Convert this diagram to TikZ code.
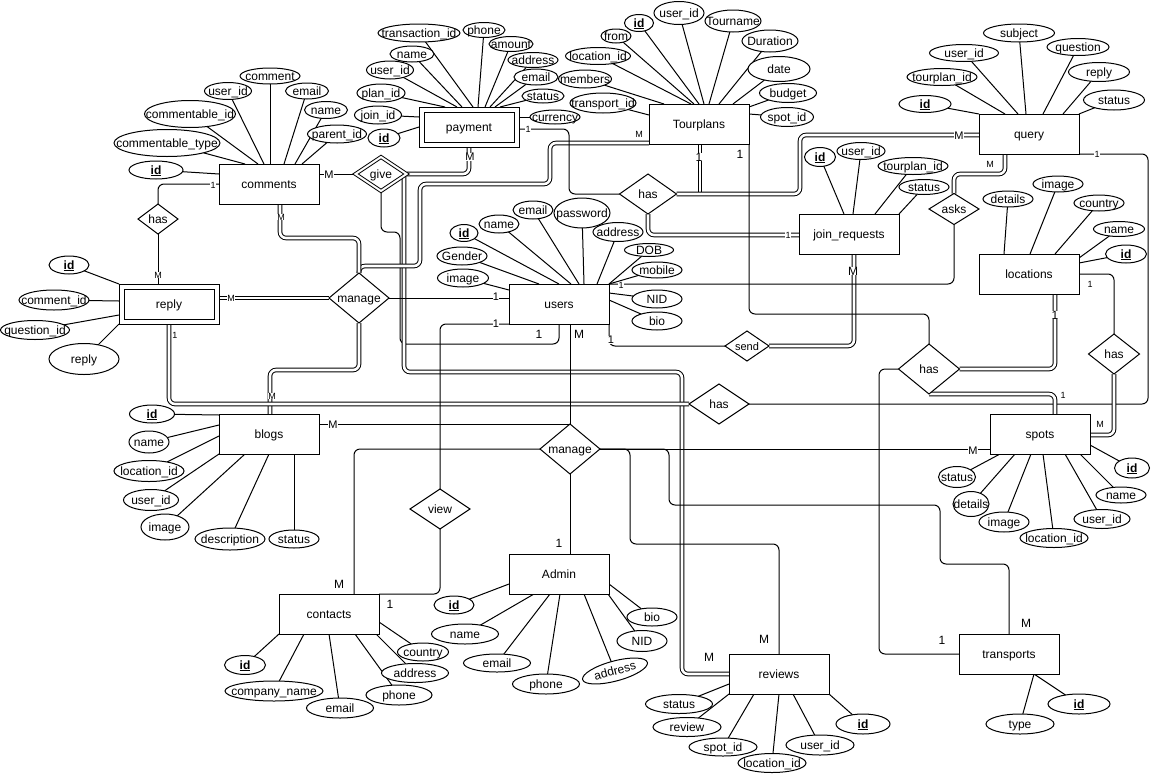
\documentclass[tikz,border=0pt]{standalone}
\usepackage{fontspec}
\setmainfont{Liberation Sans}
\usetikzlibrary{shapes.geometric}
\pgfdeclarelayer{bg}
\pgfsetlayers{bg,main}
\newcommand\zb[1]{\makebox[0pt]{#1}}
\newcommand\pkid{\textbf{\underline{id}}}
\newcommand\attrib[6]{\node[attr,minimum width=#4pt,minimum height=#5pt] (#1) at (#2,#3) {\zb{#6}};}
\newcommand\aline[4]{\draw[conn] (#1) -- ([shift={(#3,#4)}]#2.center);}
\begin{document}
\begin{tikzpicture}[x=1pt,y=-1pt,
  every node/.style={font=\fontsize{12}{14}\selectfont, inner sep=0pt, outer sep=0pt},
  ent/.style={draw, fill=white, rectangle, minimum width=100pt, minimum height=40pt, line width=1pt, text height=8pt, text depth=0pt},
  went/.style={draw, fill=white, rectangle, minimum width=95pt, minimum height=35pt, line width=1pt, double, double distance=4pt, text height=8pt, text depth=0pt},
  attr/.style={draw, fill=white, ellipse, line width=1pt, text height=8pt, text depth=0pt},
  rel/.style={draw, fill=white, diamond, line width=1pt, text height=8pt, text depth=0pt},
  conn/.style={line width=1pt, rounded corners=6pt},
  dbl/.style={conn, double, double distance=2.6pt},
  card/.style={fill=white, font=\fontsize{9}{10}\selectfont, inner sep=0.3pt},
  cardm/.style={card, font=\fontsize{11}{12}\selectfont},
  cardl/.style={card, font=\fontsize{12}{13}\selectfont}]
\useasboundingbox (0,0) rectangle (1151,774);

% ---------- entities ----------
\node[ent] (comments) at (269,184) {comments};
\node[went] (payment) at (469,127) {payment};
\node[ent] (tourplans) at (699,124) {Tourplans};
\node[ent] (query) at (1029,134) {query};
\node[ent] (joinreq) at (849,234) {join\_requests};
\node[ent] (locations) at (1029,274) {locations};
\node[ent] (users) at (559,304) {users};
\node[went] (reply) at (169,304) {reply};
\node[ent] (blogs) at (269,434) {blogs};
\node[ent] (spots) at (1040,434) {spots};
\node[ent] (contacts) at (329,614) {contacts};
\node[ent] (admin) at (559,574) {Admin};
\node[ent] (reviews) at (779,674) {reviews};
\node[ent] (transports) at (1009,654) {transports};

% ---------- relationships ----------
\node[rel, minimum width=51pt, minimum height=34pt, double, double distance=2pt] (give) at (381,174) {\zb{give}};
\node[rel, minimum width=40pt, minimum height=30pt] (hasA) at (158,219) {\zb{has}};
\node[rel, minimum width=60pt, minimum height=50pt] (manA) at (359,298) {\zb{manage}};
\node[rel, minimum width=57pt, minimum height=40pt] (hasB) at (648,194) {\zb{has}};
\node[rel, minimum width=50pt, minimum height=31pt] (asks) at (954,209) {\zb{asks}};
\node[rel, minimum width=44pt, minimum height=30pt, font=\fontsize{11}{13}\selectfont] (send) at (747,346) {\zb{send}};
\node[rel, minimum width=61pt, minimum height=50pt] (hasC) at (929,369) {\zb{has}};
\node[rel, minimum width=51pt, minimum height=40pt] (hasD) at (1114,354) {\zb{has}};
\node[rel, minimum width=60pt, minimum height=40pt] (hasE) at (719,404) {\zb{has}};
\node[rel, minimum width=60pt, minimum height=50pt] (manB) at (570,449) {\zb{manage}};
\node[rel, minimum width=60pt, minimum height=40pt] (view) at (440,509) {\zb{view}};

% ---------- attributes ----------
\attrib{cmComment}{270}{76}{60}{16}{comment}
\attrib{cmUid}{228}{91}{47}{17}{user\_id}
\attrib{cmEmail}{307}{91}{43}{16}{email}
\attrib{cmCid}{190}{114}{91}{27}{commentable\_id}
\attrib{cmName}{326}{110}{43}{17}{name}
\attrib{cmPid}{337}{134}{59}{18}{parent\_id}
\attrib{cmType}{167}{143}{106}{27}{commentable\_type}
\attrib{cmId}{156}{170}{54}{18}{\pkid}

\attrib{pyTid}{419}{33}{82}{18}{transaction\_id}
\attrib{pyPhone}{484}{30}{42}{15}{phone}
\attrib{pyAmount}{511}{44}{44}{15}{amount}
\attrib{pyName}{412}{54}{44}{16}{name}
\attrib{pyAddr}{533}{60}{50}{15}{address}
\attrib{pyUid}{390}{70}{47}{18}{user\_id}
\attrib{pyEmail}{536}{77}{44}{16}{email}
\attrib{pyPlan}{381}{93}{48}{18}{plan\_id}
\attrib{pyStatus}{543}{96}{42}{14}{status}
\attrib{pyJoin}{378}{115}{47}{18}{join\_id}
\attrib{pyCur}{555}{117}{50}{14}{currency}
\attrib{pyId}{384}{138}{32}{18}{\pkid}

\attrib{tpId}{639}{23}{29}{17}{\pkid}
\attrib{tpUid}{679}{13}{50}{23}{user\_id}
\attrib{tpName}{733}{21}{56}{22}{Tourname}
\attrib{tpFrom}{616}{36}{30}{14}{from}
\attrib{tpDur}{770}{41}{56}{22}{Duration}
\attrib{tpLoc}{598}{56}{65}{17}{location\_id}
\attrib{tpMem}{585}{79}{53}{18}{members}
\attrib{tpDate}{779}{69}{62}{25}{date}
\attrib{tpBudget}{788}{93}{57}{19}{budget}
\attrib{tpTr}{603}{103}{66}{20}{transport\_id}
\attrib{tpSpot}{787}{117}{53}{19}{spot\_id}

\attrib{qSubj}{1019}{33}{71}{18}{subject}
\attrib{qUid}{964}{53}{69}{17}{user\_id}
\attrib{qQuest}{1078}{47}{62}{17}{question}
\attrib{qTp}{942}{77}{70}{17}{tourplan\_id}
\attrib{qReply}{1099}{72}{61}{19}{reply}
\attrib{qId}{925}{104}{52}{17}{\pkid}
\attrib{qStatus}{1114}{100}{61}{20}{status}

\attrib{jrId}{820}{157}{31}{19}{\pkid}
\attrib{jrUid}{861}{151}{48}{17}{user\_id}
\attrib{jrTp}{913}{166}{70}{17}{tourplan\_id}
\attrib{jrStatus}{924}{187}{50}{15}{status}

\attrib{lcDet}{1008}{199}{50}{16}{details}
\attrib{lcImg}{1058}{184}{50}{16}{image}
\attrib{lcCty}{1099}{203}{50}{16}{country}
\attrib{lcName}{1119}{229}{51}{15}{name}
\attrib{lcId}{1126}{254}{41}{18}{\pkid}

\attrib{usEmail}{533}{210}{40}{18}{email}
\attrib{usPw}{582}{213}{56}{30}{password}
\attrib{usName}{499}{224}{40}{18}{name}
\attrib{usAddr}{618}{232}{50}{19}{address}
\attrib{usId}{464}{233}{28}{17}{\pkid}
\attrib{usGender}{462}{256}{50}{18}{Gender}
\attrib{usDob}{649}{250}{49}{13}{DOB}
\attrib{usMobile}{657}{270}{50}{16}{mobile}
\attrib{usImg}{463}{278}{51}{18}{image}
\attrib{usNid}{657}{299}{50}{18}{NID}
\attrib{usBio}{657}{321}{50}{18}{bio}

\attrib{rpId}{69}{265}{40}{18}{\pkid}
\attrib{rpCid}{54}{300}{70}{20}{comment\_id}
\attrib{rpQid}{35}{330}{69}{19}{question\_id}
\attrib{rpReply}{84}{359}{70}{31}{reply}

\attrib{blId}{152}{414}{45}{18}{\pkid}
\attrib{blName}{149}{442}{40}{22}{name}
\attrib{blLoc}{149}{471}{70}{21}{location\_id}
\attrib{blUid}{151}{500}{55}{21}{user\_id}
\attrib{blImg}{165}{527}{48}{26}{image}
\attrib{blDesc}{230}{539}{70}{22}{description}
\attrib{blStatus}{294}{539}{50}{18}{status}

\attrib{spId}{1132}{468}{35}{20}{\pkid}
\attrib{spStatus}{957}{477}{37}{21}{status}
\attrib{spName}{1121}{495}{50}{16}{name}
\attrib{spDet}{971}{504}{36}{25}{details}
\attrib{spImg}{1004}{522}{50}{20}{image}
\attrib{spLoc}{1054}{538}{68}{19}{location\_id}
\attrib{spUid}{1102}{519}{56}{19}{user\_id}

\attrib{ctId}{245}{665}{41}{19}{\pkid}
\attrib{ctCname}{274}{691}{98}{20}{company\_name}
\attrib{ctEmail}{340}{708}{67}{20}{email}
\attrib{ctPhone}{399}{695}{66}{20}{phone}
\attrib{ctAddr}{415}{673}{67}{19}{address}
\attrib{ctCty}{423}{652}{51}{18}{country}

\attrib{adId}{454}{605}{40}{18}{\pkid}
\attrib{adName}{465}{634}{67}{20}{name}
\attrib{adEmail}{497}{663}{67}{18}{email}
\attrib{adPhone}{546}{684}{67}{20}{phone}
\node[attr, minimum width=67pt, minimum height=20pt, rotate=15] (adAddr) at (615,671) {\zb{address}};
\attrib{adNid}{642}{641}{50}{21}{NID}
\attrib{adBio}{652}{617}{50}{18}{bio}

\attrib{rvStatus}{679}{704}{67}{19}{status}
\attrib{rvReview}{687}{727}{68}{19}{review}
\attrib{rvSpot}{723}{747}{68}{18}{spot\_id}
\attrib{rvLoc}{772}{763}{68}{19}{location\_id}
\attrib{rvUid}{820}{745}{68}{20}{user\_id}
\attrib{rvId}{863}{724}{54}{20}{\pkid}

\attrib{trId}{1079}{704}{62}{20}{\pkid}
\attrib{trType}{1020}{724}{68}{20}{type}

% ---------- lines (under the shapes) ----------
\begin{pgfonlayer}{bg}
\fill[white] (0,0) rectangle (1151,774);
\aline{cmComment}{comments}{1}{-20}
\aline{cmUid}{comments}{-5}{-20}
\aline{cmEmail}{comments}{15}{-20}
\aline{cmCid}{comments}{-11}{-20}
\aline{cmName}{comments}{26}{-20}
\aline{cmPid}{comments}{33}{-20}
\aline{cmType}{comments}{-24}{-20}
\aline{cmId}{comments}{-50}{-10}

\aline{pyTid}{payment}{4}{-20}
\aline{pyPhone}{payment}{9}{-20}
\aline{pyAmount}{payment}{16}{-20}
\aline{pyName}{payment}{-7}{-20}
\aline{pyAddr}{payment}{21}{-20}
\aline{pyUid}{payment}{-12}{-20}
\aline{pyEmail}{payment}{26}{-20}
\aline{pyPlan}{payment}{-24}{-20}
\aline{pyStatus}{payment}{31}{-20}
\aline{pyJoin}{payment}{-50}{-10}
\aline{pyCur}{payment}{50}{-10}
\aline{pyId}{payment}{-50}{0}

\aline{tpId}{tourplans}{0}{-20}
\aline{tpUid}{tourplans}{5}{-20}
\aline{tpName}{tourplans}{10}{-20}
\aline{tpFrom}{tourplans}{-5}{-20}
\aline{tpDur}{tourplans}{20}{-20}
\aline{tpLoc}{tourplans}{-8}{-20}
\aline{tpMem}{tourplans}{-35}{-20}
\aline{tpDate}{tourplans}{34}{-20}
\aline{tpBudget}{tourplans}{50}{-17}
\aline{tpTr}{tourplans}{-50}{-9}
\aline{tpSpot}{tourplans}{50}{-10}

\aline{qSubj}{query}{-3}{-20}
\aline{qUid}{query}{-11}{-20}
\aline{qQuest}{query}{14}{-20}
\aline{qTp}{query}{-24}{-20}
\aline{qReply}{query}{34}{-20}
\aline{qId}{query}{-50}{-20}
\aline{qStatus}{query}{50}{-20}

\aline{jrId}{joinreq}{-5}{-20}
\aline{jrUid}{joinreq}{4}{-20}
\aline{jrTp}{joinreq}{26}{-20}
\aline{jrStatus}{joinreq}{50}{-20}

\aline{lcDet}{locations}{-25}{-20}
\aline{lcImg}{locations}{1}{-20}
\aline{lcCty}{locations}{26}{-20}
\aline{lcName}{locations}{50}{-16}
\aline{lcId}{locations}{50}{-11}

\aline{usEmail}{users}{20}{-20}
\aline{usPw}{users}{25}{-20}
\aline{usName}{users}{12}{-20}
\aline{usAddr}{users}{38}{-20}
\aline{usId}{users}{0}{-20}
\aline{usGender}{users}{-20}{-20}
\aline{usDob}{users}{50}{-20}
\aline{usMobile}{users}{50}{-20}
\aline{usImg}{users}{-50}{-14}
\aline{usNid}{users}{50}{-11}
\aline{usBio}{users}{50}{-4}

\aline{rpId}{reply}{-50}{-20}
\aline{rpCid}{reply}{-50}{-3}
\aline{rpQid}{reply}{-50}{11}
\aline{rpReply}{reply}{-50}{20}

\aline{blId}{blogs}{-50}{-19}
\aline{blName}{blogs}{-50}{-9}
\aline{blLoc}{blogs}{-50}{2}
\aline{blUid}{blogs}{-50}{20}
\aline{blImg}{blogs}{-24}{20}
\aline{blDesc}{blogs}{0}{20}
\aline{blStatus}{blogs}{25}{20}

\aline{spId}{spots}{50}{11}
\aline{spStatus}{spots}{-40}{20}
\aline{spName}{spots}{40}{20}
\aline{spDet}{spots}{-25}{20}
\aline{spImg}{spots}{-9}{20}
\aline{spLoc}{spots}{3}{20}
\aline{spUid}{spots}{25}{20}

\aline{ctId}{contacts}{-50}{20}
\aline{ctCname}{contacts}{-25}{20}
\aline{ctEmail}{contacts}{0}{20}
\aline{ctPhone}{contacts}{26}{20}
\aline{ctAddr}{contacts}{47}{20}
\aline{ctCty}{contacts}{50}{8}

\aline{adId}{admin}{-50}{10}
\aline{adName}{admin}{-25}{20}
\aline{adEmail}{admin}{-9}{20}
\aline{adPhone}{admin}{1}{20}
\aline{adAddr}{admin}{25}{20}
\aline{adNid}{admin}{49}{20}
\aline{adBio}{admin}{50}{10}

\aline{rvStatus}{reviews}{-50}{10}
\aline{rvReview}{reviews}{-50}{20}
\aline{rvSpot}{reviews}{-25}{20}
\aline{rvLoc}{reviews}{0}{20}
\aline{rvUid}{reviews}{14}{20}
\aline{rvId}{reviews}{50}{20}

\aline{trId}{transports}{25}{20}
\aline{trType}{transports}{25}{20}

% relationship connectors
\draw[conn] ([shift={(50,-10)}]comments.center) -- (give.west);
\draw[dbl] (give.east) -- (469,174) -- (payment.south);
\draw[conn] (give.south) -- (381,232) -- (400,232) -- (400,344) -- (559,344) -- (users.south);
\draw[dbl] ([shift={(23,0)}]give.center) -- (404,372) -- (682,372) -- (682,674) -- (reviews.west);
\draw[dbl] ([shift={(-50,19)}]tourplans.center) -- (550,143) -- (550,184) -- (420,184) -- (420,266) -- (359,266) -- (manA.north);
\draw[dbl] ([shift={(11,20)}]comments.center) -- (280,238) -- (359,238) -- (manA.north);
\draw[dbl] ([shift={(48,-6)}]reply.center) -- (manA.west);
\draw[conn] (manA.east) -- ([shift={(-50,-6)}]users.center);
\draw[dbl] (manA.south) -- (359,370) -- (270,370) -- ([shift={(1,-20)}]blogs.center);
\draw[dbl] ([shift={(0,18)}]reply.center) -- (169,404) -- (hasE.west);
\draw[conn] (hasE.east) -- (1148,404) -- (1148,154) -- (query.south east);
\draw[conn] ([shift={(48,2)}]payment.center) -- (569,129) -- (569,194) -- (hasB.west);
\draw[dbl, sharp corners] ([shift={(1,20)}]tourplans.center) -- (700,194) -- (hasB.east);
\draw[dbl] (hasB.east) -- (800,194) -- (800,135) -- ([shift={(-50,1)}]query.center);
\draw[dbl] (hasB.south) -- (648,235) -- ([shift={(-50,1)}]joinreq.center);
\draw[conn] ([shift={(50,20)}]users.center) -- (609,346) -- (send.west);
\draw[dbl] (send.east) -- (854,346) -- ([shift={(5,20)}]joinreq.center);
\draw[conn] ([shift={(50,-20)}]users.center) -- (954,284) -- (asks.south);
\draw[dbl] (asks.north) -- (954,174) -- (1005,174) -- ([shift={(-24,20)}]query.center);
\draw[conn] ([shift={(11,20)}]users.center) -- (manB.north);
\draw[conn] (manB.south) -- ([shift={(11,-20)}]admin.center);
\draw[conn] ([shift={(50,-10)}]blogs.center) -- (manB.north);
\draw[conn] (manB.west) -- (354,449) -- ([shift={(25,-20)}]contacts.center);
\draw[conn] (manB.east) -- (630,449) -- (630,544) -- (779,544) -- (reviews.north);
\draw[conn] (manB.east) -- ([shift={(-50,15)}]spots.center);
\draw[conn] (manB.east) -- (669,449) -- (669,505) -- (940,505) -- (940,564) -- (1009,564) -- (transports.north);
\draw[conn] (tourplans.south east) -- (749,314) -- (929,314) -- (hasC.north);
\draw[dbl] (hasC.east) -- (1055,369) -- ([shift={(26,20)}]locations.center);
\draw[dbl] (hasC.south) -- (1055,394) -- ([shift={(15,-20)}]spots.center);
\draw[conn] (hasC.west) -- (879,369) -- (879,654) -- (transports.west);
\draw[conn] (locations.east) -- (1114,274) -- (hasD.north);
\draw[dbl] (hasD.south) -- (1114,435) -- ([shift={(50,1)}]spots.center);
\draw[conn] ([shift={(-50,20)}]users.center) -- (440,324) -- (view.north);
\draw[conn] (view.south) -- (440,594) -- (contacts.north east);
\draw[conn] (comments.west) -- (158,184) -- (hasA.north);
\draw[conn] (hasA.south) -- ([shift={(-11,-18)}]reply.center);
\end{pgfonlayer}

% ---------- cardinalities ----------
\node[card] (k1) at (213,185) {1};
\node[card] (k2) at (281,217) {M};
\node[card] (k3) at (158,275) {M};
\node[card] (k4) at (231,298) {M};
\node[card] (k5) at (175,335) {1};
\node[card] (k6) at (272,396) {M};
\node[card] (k7) at (528,129) {1};
\node[card] (k8) at (639,134) {M};
\node[card] (k9) at (990,164) {M};
\node[card] (k10) at (1097,154) {1};
\node[card] (k11) at (788,235) {1};
\node[card] (k12) at (621,285) {1};
\node[card] (k13) at (1063,395) {1};
\node[card] (k14) at (1090,284) {1};
\node[card] (k15) at (1100,424) {M};
\node[cardm] (k16) at (329,175) {M};
\node[cardm] (k17) at (333,425) {M};
\node[cardm] (k18) at (496,297) {1};
\node[cardm] (k19) at (496,324) {1};
\node[cardm] (k20) at (470,157) {M};
\node[cardm] (k21) at (959,136) {M};
\node[cardm] (k22) at (611,340) {1};
\node[cardm] (k23) at (973,451) {M};
\node[cardl] (k24) at (539,334) {1};
\node[cardl] (k25) at (579,334) {M};
\node[cardl] (k26) at (699,157) {1};
\node[cardl] (k27) at (740,154) {1};
\node[cardl] (k28) at (853,271) {M};
\node[cardl] (k29) at (1055,315) {1};
\node[cardl] (k30) at (339,584) {M};
\node[cardl] (k31) at (390,604) {1};
\node[cardl] (k32) at (559,543) {1};
\node[cardl] (k33) at (764,639) {M};
\node[cardl] (k34) at (709,657) {M};
\node[cardl] (k35) at (1026,623) {M};
\node[cardl] (k36) at (942,640) {1};
\end{tikzpicture}
\end{document}
